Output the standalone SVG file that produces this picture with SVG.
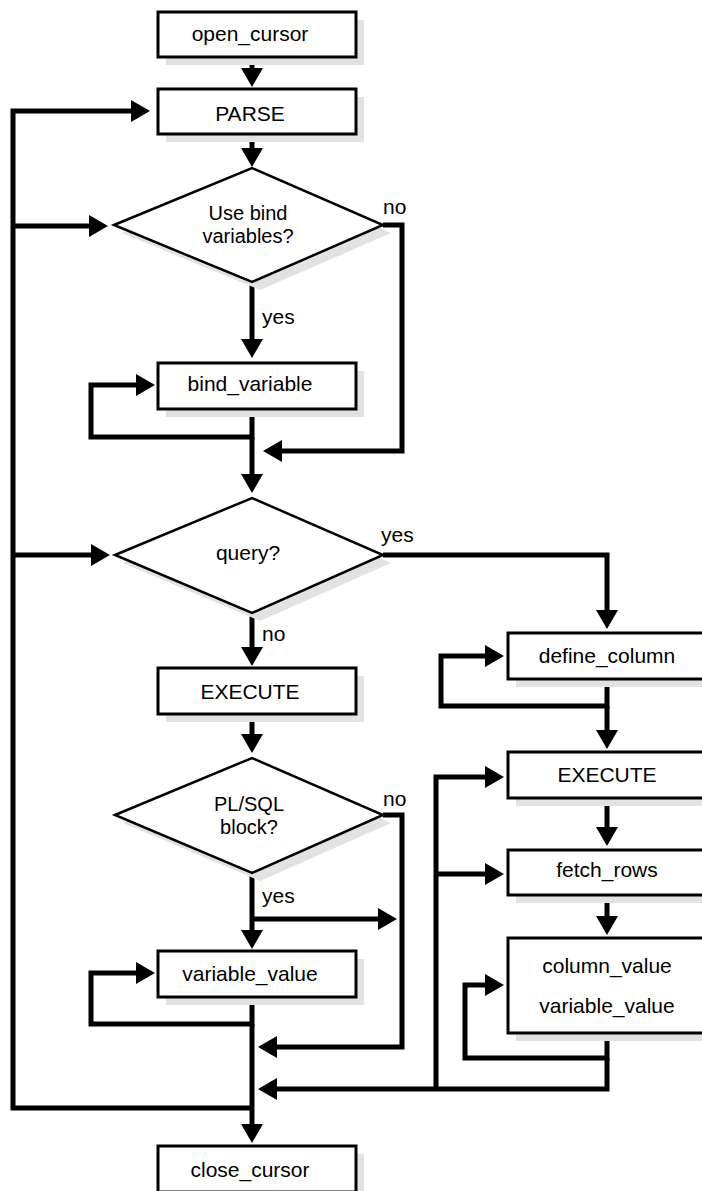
<svg xmlns="http://www.w3.org/2000/svg" width="702" height="1191" viewBox="0 0 702 1191">
<style>
  .box{fill:#fff;stroke:#000;stroke-width:3}
  .dia{fill:#fff;stroke:#000;stroke-width:2.5;stroke-linejoin:miter}
  .sh{fill:#e2e2e2;stroke:none}
  .t{font-family:"Liberation Sans",Arial,sans-serif;font-size:21px;fill:#000;text-anchor:middle}
  .t2{font-family:"Liberation Sans",Arial,sans-serif;font-size:20px;fill:#000;text-anchor:middle}
  .l{font-family:"Liberation Sans",Arial,sans-serif;font-size:21px;fill:#000}
  .c{fill:none;stroke:#000;stroke-width:5;stroke-linejoin:miter;stroke-linecap:butt}
</style>
<defs>
  <marker id="ah" markerUnits="userSpaceOnUse" markerWidth="20" markerHeight="22" refX="0" refY="11" orient="auto" viewBox="0 0 20 22" overflow="visible">
    <path d="M0,0 L19,11 L0,22 Z" fill="#000"/>
  </marker>
</defs>
<rect width="702" height="1191" fill="#fff"/>

<g id="connectors">
  <path class="c" d="M252,1108 H13 V111 H131" marker-end="url(#ah)"/>
  <path class="c" d="M13,226 H89" marker-end="url(#ah)"/>
  <path class="c" d="M13,555 H91" marker-end="url(#ah)"/>
  <path class="c" d="M252,57 V68" marker-end="url(#ah)"/>
  <path class="c" d="M252,134 V148" marker-end="url(#ah)"/>
  <path class="c" d="M252,282 V339" marker-end="url(#ah)"/>
  <path class="c" d="M252,408 V437 H91 V385 H136" marker-end="url(#ah)"/>
  <path class="c" d="M252,437 V474" marker-end="url(#ah)"/>
  <path class="c" d="M383,225 H402 V451 H282" marker-end="url(#ah)"/>
  <path class="c" d="M252,613 V647" marker-end="url(#ah)"/>
  <path class="c" d="M383,555 H607 V610" marker-end="url(#ah)"/>
  <path class="c" d="M607,679 V706 H441 V656 H485" marker-end="url(#ah)"/>
  <path class="c" d="M607,706 V730" marker-end="url(#ah)"/>
  <path class="c" d="M252,714 V734" marker-end="url(#ah)"/>
  <path class="c" d="M383,815 H402 V1047 H277" marker-end="url(#ah)"/>
  <path class="c" d="M252,873 V930" marker-end="url(#ah)"/>
  <path class="c" d="M252,919 H378"  marker-end="url(#ah)"/>
  <path class="c" d="M252,997 V1024 H91 V973 H136" marker-end="url(#ah)"/>
  <path class="c" d="M252,1024 V1124" marker-end="url(#ah)"/>
  <path class="c" d="M607,798 V827" marker-end="url(#ah)"/>
  <path class="c" d="M607,895 V916" marker-end="url(#ah)"/>
  <path class="c" d="M607,1033 V1058 H465 V985 H485" marker-end="url(#ah)"/>
  <path class="c" d="M607,1058 V1089 H277" marker-end="url(#ah)"/>
  <path class="c" d="M436,1089 V777 H485" marker-end="url(#ah)"/>
  <path class="c" d="M436,874 H485" marker-end="url(#ah)"/>
</g>

<g id="open_cursor">
  <rect class="sh" x="166" y="20" width="198" height="45"/>
  <rect class="box" x="158" y="12" width="198" height="45"/>
  <text class="t" x="250" y="41">open_cursor</text>
</g>
<g id="parse">
  <rect class="sh" x="166" y="97" width="198" height="45"/>
  <rect class="box" x="158" y="89" width="198" height="45"/>
  <text class="t" x="250" y="121">PARSE</text>
</g>
<g id="use_bind">
  <polygon class="sh" points="122,233 260,176 391,233 260,290"/>
  <polygon class="dia" points="114,225 252,168 383,225 252,282"/>
  <text class="t2" x="248" y="220">Use bind</text>
  <text class="t2" x="248" y="243">variables?</text>
  <text class="l" x="383" y="214">no</text>
  <text class="l" x="262" y="324">yes</text>
</g>
<g id="bind_variable">
  <rect class="sh" x="166" y="371" width="198" height="46"/>
  <rect class="box" x="158" y="363" width="198" height="46"/>
  <text class="t" x="250" y="391">bind_variable</text>
</g>
<g id="query">
  <polygon class="sh" points="123,563 260,506 391,563 260,621"/>
  <polygon class="dia" points="115,555 252,498 383,555 252,613"/>
  <text class="t" x="248" y="560">query?</text>
  <text class="l" x="381" y="542">yes</text>
  <text class="l" x="262" y="641">no</text>
</g>
<g id="execute_left">
  <rect class="sh" x="166" y="676" width="198" height="46"/>
  <rect class="box" x="158" y="668" width="198" height="46"/>
  <text class="t" x="250" y="699">EXECUTE</text>
</g>
<g id="plsql_block">
  <polygon class="sh" points="123,823 260,766 391,823 260,881"/>
  <polygon class="dia" points="115,815 252,758 383,815 252,873"/>
  <text class="t2" x="249" y="811">PL/SQL</text>
  <text class="t2" x="249" y="834">block?</text>
  <text class="l" x="383" y="806">no</text>
  <text class="l" x="262" y="903">yes</text>
</g>
<g id="variable_value_left">
  <rect class="sh" x="166" y="959" width="198" height="46"/>
  <rect class="box" x="158" y="951" width="198" height="46"/>
  <text class="t" x="250" y="981">variable_value</text>
</g>
<g id="close_cursor">
  <rect class="sh" x="166" y="1154" width="198" height="46"/>
  <rect class="box" x="158" y="1146" width="198" height="46"/>
  <text class="t" x="250" y="1177">close_cursor</text>
</g>
<g id="define_column">
  <rect class="sh" x="516" y="641" width="198" height="46"/>
  <rect class="box" x="508" y="633" width="198" height="46"/>
  <text class="t" x="607" y="663">define_column</text>
</g>
<g id="execute_right">
  <rect class="sh" x="516" y="760" width="198" height="46"/>
  <rect class="box" x="508" y="752" width="198" height="46"/>
  <text class="t" x="607" y="782">EXECUTE</text>
</g>
<g id="fetch_rows">
  <rect class="sh" x="516" y="858" width="198" height="45"/>
  <rect class="box" x="508" y="850" width="198" height="45"/>
  <text class="t" x="607" y="877">fetch_rows</text>
</g>
<g id="column_variable_value">
  <rect class="sh" x="516" y="946" width="198" height="95"/>
  <rect class="box" x="508" y="938" width="198" height="95"/>
  <text class="t" x="607" y="973">column_value</text>
  <text class="t" x="607" y="1013">variable_value</text>
</g>
</svg>
